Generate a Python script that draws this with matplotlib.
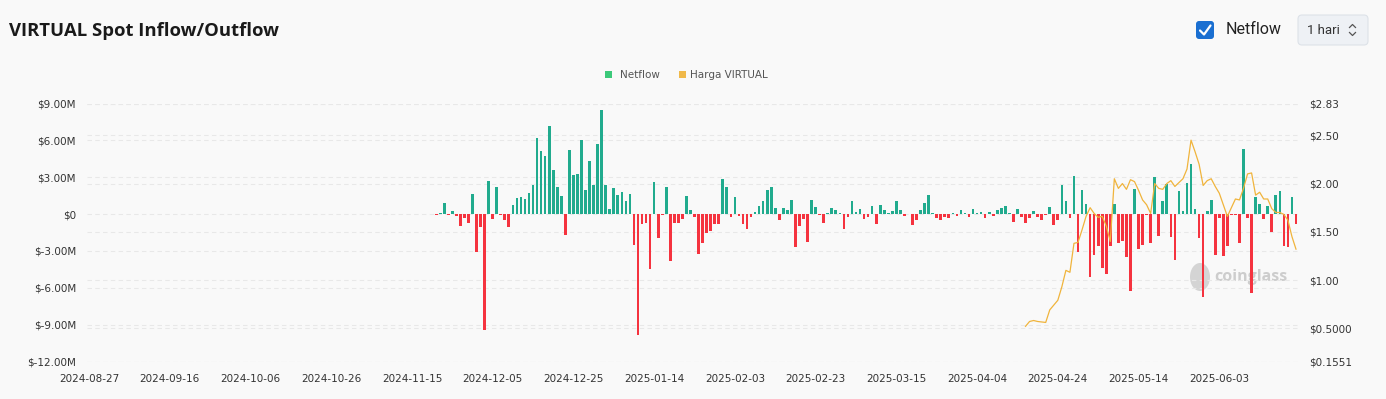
import numpy as np
import pandas as pd
import matplotlib
matplotlib.use('Agg')
import matplotlib.pyplot as plt
from matplotlib.patches import FancyBboxPatch, Rectangle, Ellipse

# x axis: one category per day
axis_start = '2024-08-27'
axis_days = 300

# daily spot netflow, millions of USD
flow_start = '2024-11-21'
netflow = [
    -0.05, 0.1, 0.9, -0.05, 0.27, -0.19, -0.94, -0.35, -0.73, 1.64,
    -3.1, -1.05, -9.43, 2.7, -0.4, 2.18, -0.1, -0.46, -1.02, 0.75,
    1.29, 1.4, 1.19, 1.7, 2.35, 6.23, 5.12, 4.69, 7.17, 3.6,
    2.18, 1.48, -1.73, 5.18, 3.2, 3.3, 6.04, 1.97, 4.29, 2.35,
    5.69, 8.5, 2.35, 0.4, 2.1, 1.54, 1.78, 1.08, 1.62, -2.48,
    -9.86, -0.84, -0.73, -4.47, 2.59, -1.97, -0.05, 2.18, -3.85, -0.73,
    -0.73, -0.38, 1.46, 0.32, -0.22, -3.23, -2.37, -1.56, -1.35, -0.84,
    -0.84, 2.83, 2.18, -0.27, 1.43, -0.16, -0.81, -1.19, -0.27, 0.16,
    0.65, 1.1, 1.94, 2.24, 0.46, -0.49, 0.46, 0.32, 1.13, -2.7,
    -0.94, -0.43, -2.24, 1.13, 0.57, -0.05, -0.7, 0.08, 0.49, 0.3,
    0.1, -1.19, -0.24, 1.05, 0.16, 0.38, -0.38, -0.22, 0.62, -0.84,
    0.73, 0.3, 0.05, 0.24, 1.05, 0.32, -0.13, -0.03, -0.92, -0.49,
    0.32, 0.89, 1.54, 0.1, -0.35, -0.46, -0.27, -0.3, 0.1, -0.13,
    0.32, 0.05, -0.27, 0.38, 0.1, 0.16, -0.32, 0.16, -0.16, 0.3,
    0.46, 0.67, 0.1, -0.62, 0.38, -0.27, -0.75, -0.35, 0.28, -0.27,
    -0.5, -0.08, 0.55, -0.85, -0.51, 2.33, 1.06, -0.33, 3.12, -3.1,
    1.92, 0.85, -5.1, -3.3, -2.62, -4.43, -4.85, -2.57, 0.78, -2.35,
    -2.22, -3.5, -6.3, 2.07, -2.85, -2.53, -0.05, -2.35, 3.0, -1.77,
    1.05, 2.45, -1.9, -3.7, 1.88, 0.25, 2.5, 4.11, 0.43, -1.93,
    -6.74, 0.25, 1.13, -3.3, -0.35, -3.42, -2.58, -0.1, -0.1, -2.35,
    5.32, -0.32, -6.4, 1.42, 0.79, -0.39, 0.66, -1.48, 1.59, 1.91,
    -2.58, -2.71, 1.35, -0.84,
]

# VIRTUAL price, USD
price_start = '2025-04-16'
price = [
    0.52, 0.57, 0.58, 0.57, 0.565, 0.56, 0.69, 0.74, 0.79, 0.93,
    1.10, 1.08, 1.38, 1.39, 1.52, 1.66, 1.75, 1.69, 1.65, 1.66,
    1.56, 1.40, 2.05, 1.95, 2.00, 1.94, 2.04, 2.02, 1.93, 1.83,
    1.78, 1.69, 2.00, 1.95, 1.94, 2.00, 2.03, 1.97, 2.01, 2.05,
    2.15, 2.45, 2.33, 2.20, 1.98, 2.03, 2.05, 1.97, 1.90, 1.78,
    1.66, 1.75, 1.84, 1.83, 1.95, 2.10, 2.11, 1.88, 1.91, 1.84,
    1.84, 1.74, 1.70, 1.70, 1.68, 1.62, 1.45, 1.32,
]

left_ticks = [-12, -9, -6, -3, 0, 3, 6, 9]
left_labels = ['$-12.00M', '$-9.00M', '$-6.00M', '$-3.00M', '$0', '$3.00M', '$6.00M', '$9.00M']
right_ticks = [0.1551, 0.5, 1.0, 1.5, 2.0, 2.5, 2.83]
right_labels = ['$0.1551', '$0.5000', '$1.00', '$1.50', '$2.00', '$2.50', '$2.83']

W, H = 1386, 399
bg = '#f9f9f9'
grid_col = '#e8e8e8'
txt_col = '#333333'

fig = plt.figure(figsize=(W / 100, H / 100), dpi=100)
fig.patch.set_facecolor(bg)

# header, legend, watermark in pixel coords (drawn under the chart)
ov = fig.add_axes([0, 0, 1, 1])
ov.set_xlim(0, W)
ov.set_ylim(H, 0)
ov.axis('off')
ov.patch.set_alpha(0)
ov.set_zorder(-1)

ov.text(9, 31, 'VIRTUAL Spot Inflow/Outflow', fontsize=13.3, fontweight='bold',
        family='Open Sans', color='#1a1a1a', ha='left', va='center')

ov.add_patch(FancyBboxPatch((1196, 21), 18, 18, boxstyle='round,pad=0,rounding_size=3',
                            fc='#1a6fd1', ec='none'))
ov.plot([1200, 1204, 1210.5], [30.5, 34.5, 25.5], color='white', lw=1.6, solid_capstyle='round')
ov.text(1226, 30, 'Netflow', fontsize=11.5, family='Roboto', color='#222222', ha='left', va='center')

ov.add_patch(FancyBboxPatch((1298, 15), 70, 30, boxstyle='round,pad=0,rounding_size=4',
                            fc='#eef1f5', ec='#dde2e8', lw=0.8))
ov.text(1307, 30, '1 hari', fontsize=9.5, family='Roboto', color='#333333', ha='left', va='center')
ov.plot([1349.5, 1352.5, 1355.5], [27.5, 24.5, 27.5], color='#555555', lw=0.9)
ov.plot([1349.5, 1352.5, 1355.5], [32.5, 35.5, 32.5], color='#555555', lw=0.9)

ov.add_patch(Rectangle((605, 71), 7, 7, fc='#3cc97a', ec='none'))
ov.text(620, 74.5, 'Netflow', fontsize=7.5, color='#555555', ha='left', va='center')
ov.add_patch(Rectangle((679, 71), 7, 7, fc='#f0b94a', ec='none'))
ov.text(690, 74.5, 'Harga VIRTUAL', fontsize=7.5, color='#555555', ha='left', va='center')

ov.add_patch(Ellipse((1200, 277), 20, 28, fc='#d4d4d4', ec='none'))
ov.text(1214, 277, 'coinglass', fontsize=11.5, fontweight='bold', family='Open Sans',
        color='#cdcdcd', ha='left', va='center')

ax = fig.add_axes([87 / W, 1 - 361.5 / H, (1298 - 87) / W, (361.5 - 103.5) / H])
ax.set_facecolor('none')

start = pd.Timestamp(axis_start)
x_flow = (pd.date_range(flow_start, periods=len(netflow)) - start).days
x_price = (pd.date_range(price_start, periods=len(price)) - start).days

vals = np.array(netflow)
colors = np.where(vals >= 0, '#21ab8e', '#f5333f')
ax.bar(x_flow, vals, width=0.66, color=colors, zorder=3)

ax.set_xlim(-0.5, axis_days - 0.5)
ax.set_ylim(-12, 9)

# gridlines for both y axes, dashed
for t in left_ticks:
    ax.axhline(t, color=grid_col, lw=0.8, ls=(0, (4, 3)), zorder=1)
lo, hi = right_ticks[0], right_ticks[-1]
for t in right_ticks:
    f = (t - lo) / (hi - lo)
    ax.plot([0, 1], [f, f], transform=ax.transAxes, color=grid_col, lw=0.8, ls=(0, (4, 3)), zorder=1)

date_pos = list(range(0, axis_days, 20))
date_labels = [(start + pd.Timedelta(days=d)).strftime('%Y-%m-%d') for d in date_pos]
ax.set_xticks(date_pos, date_labels)
ax.set_yticks(left_ticks, left_labels)
ax.tick_params(axis='both', length=0, labelsize=7.5, labelcolor=txt_col)
ax.tick_params(axis='y', pad=8)
ax.tick_params(axis='x', pad=9)
for s in ax.spines.values():
    s.set_visible(False)

ax2 = ax.twinx()
ax2.plot(x_price, price, color='#f0b43c', lw=0.9, zorder=4)
ax2.set_ylim(lo, hi)
ax2.set_yticks(right_ticks, right_labels)
ax2.tick_params(axis='y', length=0, labelsize=7.5, labelcolor=txt_col, pad=8)
for s in ax2.spines.values():
    s.set_visible(False)

fig.savefig('out.png', dpi=100, facecolor=bg)
